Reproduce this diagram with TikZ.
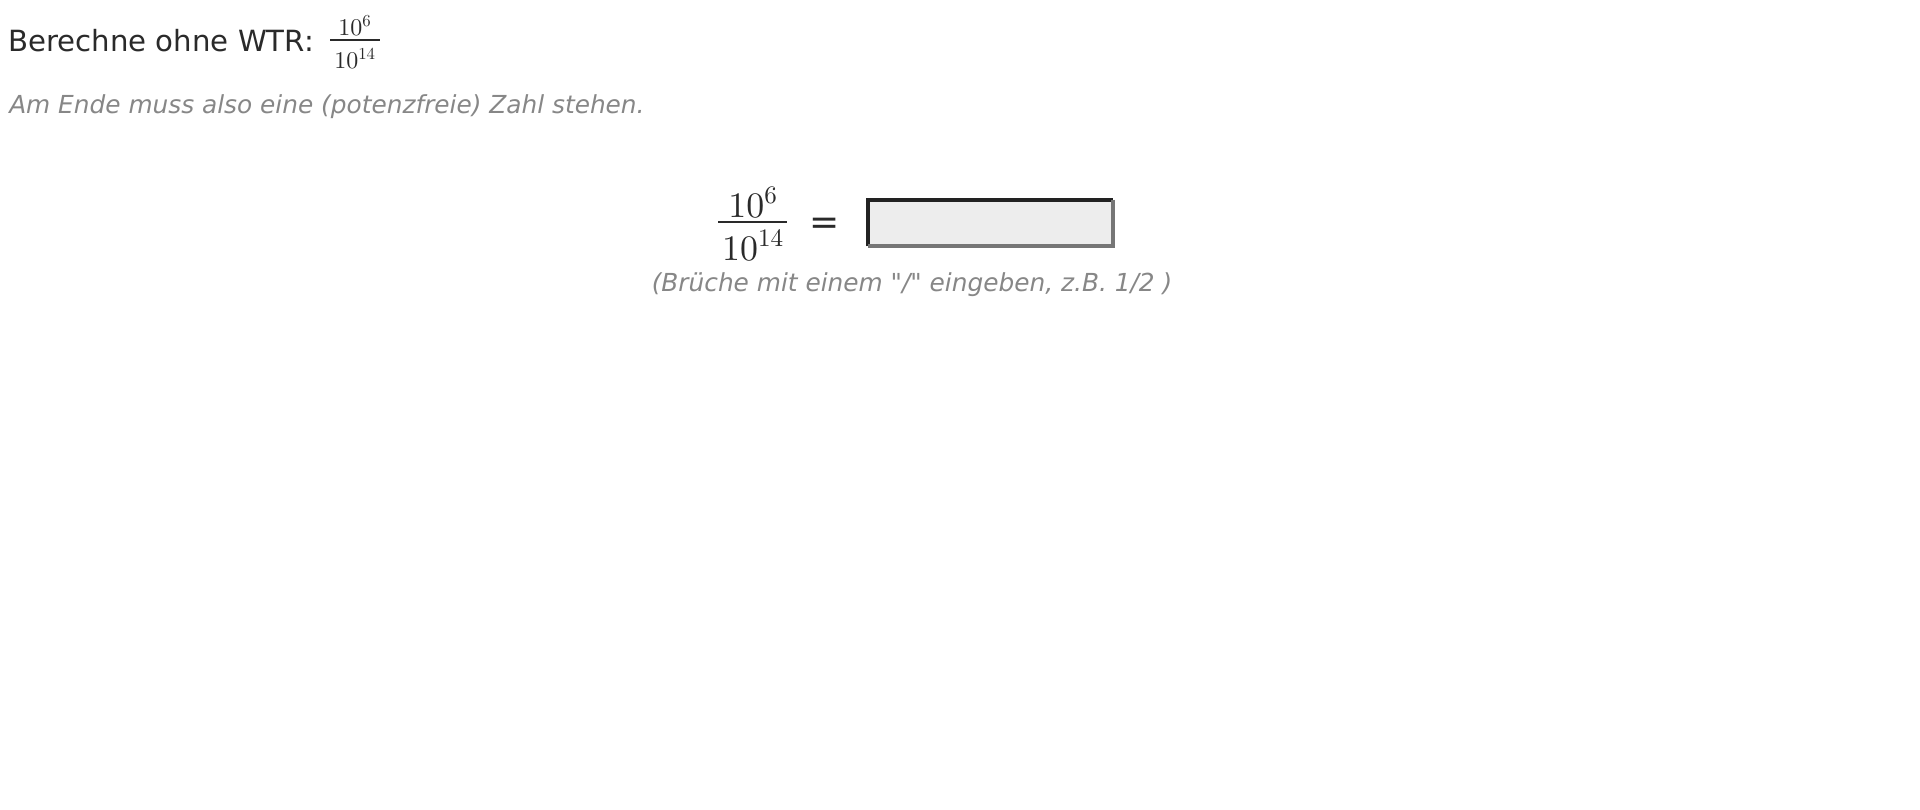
\RequirePackage{fix-cm}
\documentclass[tikz,border=0pt]{standalone}
\usepackage[no-math]{fontspec}
\setmainfont{DejaVu Sans}
\usepackage{xcolor}
\usetikzlibrary{positioning,calc}
\DeclareFontShape{OT1}{cmr}{m}{n}{<-> cmr10}{}
\definecolor{ink}{HTML}{2A2A2A}
\definecolor{hintgray}{HTML}{878787}
\definecolor{fieldbg}{HTML}{EDEDED}
\definecolor{fielddark}{HTML}{222222}
\definecolor{fieldlight}{HTML}{767676}
\tikzset{
  heading/.style={anchor=base west, inner sep=0pt, text=ink, font=\fontsize{21.9}{26}\selectfont},
  remark/.style={inner sep=0pt, text=hintgray, font=\fontsize{18.6}{22}\selectfont\itshape},
  bigmath/.style={anchor=base, inner sep=0pt, text=ink, font=\fontsize{26.9}{32}\selectfont},
  smallmath/.style={anchor=base, inner sep=0pt, text=ink, font=\fontsize{18}{22}\selectfont},
  fracbar/.style={draw=ink, line width=1.5pt},
}

\begin{document}
\begin{tikzpicture}[x=0.75pt, y=-0.75pt]
    \useasboundingbox[fill=white] (0,0) rectangle (1920,810);

    \node[heading] (title) at (8,51) {Berechne ohne WTR:};
    \node[smallmath] (tnum) at (355,35) {$10^6$};
    \node[smallmath] (tden) at (355,68) {$10^{14}$};
    \coordinate (tbarl) at (330,40);
    \coordinate (tbarr) at (380,40);
    \draw[fracbar, line width=1.1pt] (tbarl) -- (tbarr);

    \node[remark, anchor=base west] (note) at (9,113) {Am Ende muss also eine (potenzfreie) Zahl stehen.};

    \node[bigmath] (num) at (753,217) {$10^6$};
    \node[bigmath] (den) at (753,260) {$10^{14}$};
    \coordinate (barl) at (718,222);
    \coordinate (barr) at (787,222);
    \draw[fracbar] (barl) -- (barr);

    \node[inner sep=0pt, text=ink, font=\fontsize{27}{32}\selectfont] (eq) at (824.5,226) {=};

    \node[fill=fieldbg, inner sep=0pt, minimum width=183.5pt, minimum height=34.5pt] (answer) at (990.5,223) {};
    \draw[fielddark, line width=3pt, line cap=square] (answer.south west) -- (answer.north west) -- (answer.north east);
    \draw[fieldlight, line width=3pt] (answer.north east) -- (answer.south east) -- (answer.south west);

    \node[remark, anchor=base] (tip) at (912,291) {(Brüche mit einem \textquotedbl/\textquotedbl{} eingeben, z.B. 1/2 )};
\end{tikzpicture}
\end{document}
